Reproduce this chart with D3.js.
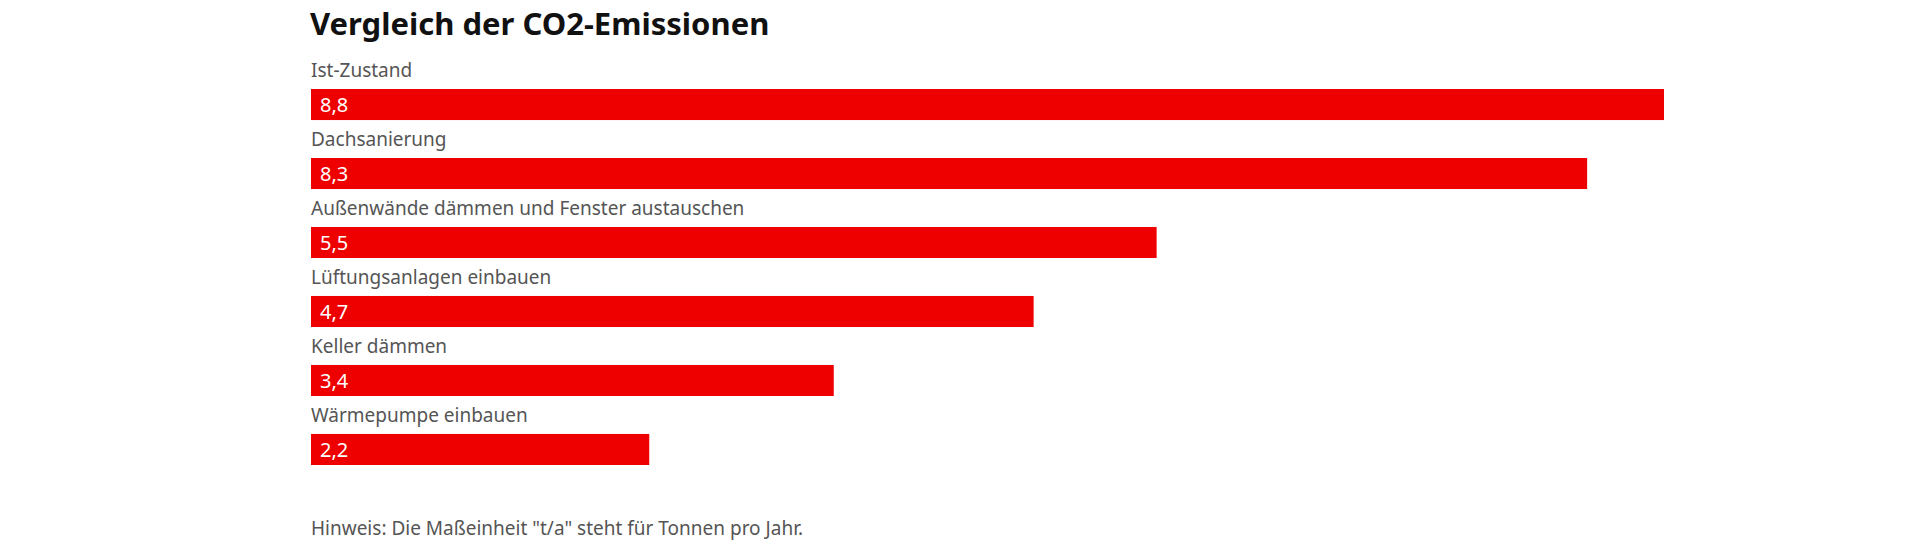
<!DOCTYPE html>
<html><head><meta charset="utf-8">
<script src="https://cdn.jsdelivr.net/npm/d3@7"></script>
<style>body{margin:0;background:#fff}svg{display:block}</style>
</head><body>
<script>
const categories = ["Ist-Zustand","Dachsanierung","Außenwände dämmen und Fenster austauschen","Lüftungsanlagen einbauen","Keller dämmen","Wärmepumpe einbauen"];
const values = [8.8,8.3,5.5,4.7,3.4,2.2];
const title = "Vergleich der CO2-Emissionen";
const note = 'Hinweis: Die Maßeinheit "t/a" steht für Tonnen pro Jahr.';

const W=1920,H=547;
const svg=d3.select("body").append("svg").attr("width",W).attr("height",H);
const font="'Noto Sans', 'Open Sans', sans-serif";
const x=d3.scaleLinear().domain([0,8.8]).range([311,1664]);
const y=d3.scaleBand().domain(categories).range([89,465]).paddingInner(0.55).paddingOuter(0).align(0);
const fmt=v=>d3.format(".1f")(v).replace(".",",");

svg.append("text").attr("x",310).attr("y",35).attr("font-family",font).attr("font-weight",700)
  .attr("font-size",31).attr("fill","#111").text(title);

const g=svg.selectAll("g.row").data(categories).join("g");
g.append("text").attr("x",311).attr("y",c=>y(c)-12).attr("font-family",font).attr("font-size",19)
  .attr("fill","#555").text(c=>c);
g.append("rect").attr("x",x(0)).attr("y",c=>y(c)).attr("height",y.bandwidth())
  .attr("width",(c,i)=>x(values[i])-x(0)).attr("fill","#ee0000");
g.append("text").attr("x",320).attr("y",c=>y(c)+23).attr("font-family",font).attr("font-size",20)
  .attr("fill","#fff").text((c,i)=>fmt(values[i]));

svg.append("text").attr("x",311).attr("y",535).attr("font-family",font).attr("font-size",19)
  .attr("fill","#555").text(note);
</script>
</body></html>
